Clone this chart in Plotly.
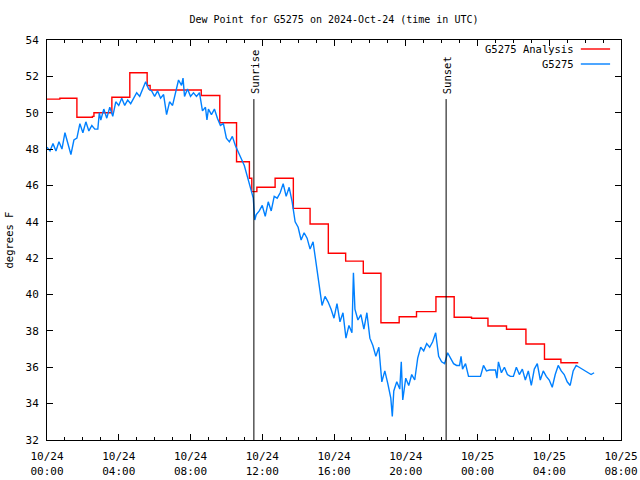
import pandas as pd
import plotly.graph_objects as go

# ---------------- data ----------------
base_date = "2024-10-24 00:00"

# observed dew point (minutes after 00:00 UTC, deg F)
obs_minutes = [0, 10, 20, 30, 40, 50, 60, 70, 80, 90, 100, 110, 120, 130, 140, 150, 160, 170, 175,
               180, 190, 200, 210, 220, 230, 240, 250, 260, 270, 280, 290, 300, 310, 320, 330, 340,
               350, 360, 370, 380, 390, 400, 410, 420, 430, 440, 450, 455, 460, 470, 480, 490, 500,
               510, 520, 530, 535, 540, 550, 560, 570, 580, 590, 600, 610, 620, 630, 640, 650, 660,
               670, 680, 690, 695, 700, 710, 720, 730, 740, 750, 760, 770, 780, 790, 800, 810, 820,
               830, 840, 850, 860, 870, 880, 890, 900, 910, 920, 930, 940, 950, 960, 970, 980, 990,
               1000, 1010, 1020, 1025, 1030, 1040, 1050, 1060, 1070, 1080, 1090, 1100, 1110, 1120,
               1130, 1140, 1150, 1155, 1160, 1170, 1180, 1185, 1190, 1200, 1210, 1220, 1230, 1240,
               1250, 1260, 1270, 1280, 1290, 1300, 1310, 1320, 1330, 1340, 1350, 1360, 1370, 1380,
               1385, 1390, 1400, 1410, 1420, 1430, 1440, 1450, 1460, 1470, 1480, 1490, 1500, 1505,
               1510, 1520, 1530, 1540, 1550, 1560, 1570, 1580, 1590, 1600, 1610, 1620, 1630, 1640,
               1650, 1660, 1670, 1680, 1690, 1700, 1710, 1720, 1730, 1740, 1750, 1760, 1770, 1780,
               1790, 1800, 1810, 1820, 1830]
obs_values = [48.1, 47.9, 48.3, 47.9, 48.4, 48.0, 48.9, 48.3, 47.7, 48.5, 48.6, 49.4, 48.9, 49.5, 49.0,
              49.3, 49.1, 49.1, 50.0, 49.6, 50.2, 49.7, 50.3, 49.8, 50.6, 50.4, 50.8, 50.4, 50.7, 50.5,
              50.8, 51.1, 50.9, 51.3, 51.7, 51.3, 51.2, 50.9, 51.2, 50.8, 51.0, 49.9, 50.6, 50.4, 51.2,
              51.8, 51.5, 51.9, 50.9, 51.3, 50.9, 51.1, 50.9, 51.1, 50.1, 50.3, 49.6, 50.2, 49.9, 50.2,
              49.7, 49.3, 49.4, 48.6, 48.4, 48.7, 48.2, 47.8, 47.5, 47.1, 46.5, 45.9, 45.3, 44.1, 44.4,
              44.6, 44.9, 44.3, 45.1, 44.6, 45.4, 45.3, 45.6, 46.1, 45.4, 45.9, 45.1, 44.0, 43.7, 43.0,
              43.4, 43.1, 42.5, 42.9, 41.8, 40.6, 39.4, 39.9, 39.6, 39.2, 38.7, 39.5, 38.5, 39.0, 37.6,
              38.3, 37.9, 41.2, 39.2, 38.6, 38.9, 38.1, 39.0, 37.6, 37.2, 36.6, 37.1, 35.2, 35.8, 35.1,
              34.3, 33.3, 34.7, 35.2, 34.8, 36.3, 34.2, 35.4, 35.0, 35.6, 35.3, 36.5, 37.1, 36.9, 37.3,
              37.1, 37.4, 37.9, 36.6, 36.3, 36.2, 36.8, 36.5, 36.2, 36.1, 36.1, 36.6, 35.9, 36.2, 35.5,
              35.5, 35.5, 35.5, 35.5, 36.1, 35.8, 35.85, 35.85, 35.85, 35.4, 36.3, 35.7, 36.0, 35.6,
              35.5, 35.5, 36.0, 35.6, 35.9, 35.3, 35.8, 35.0, 35.9, 36.2, 35.3, 35.8, 35.5, 35.3, 34.9,
              35.6, 36.1, 35.8, 35.6, 35.2, 35.0, 35.8, 36.1, 36.0, 35.9, 35.8, 35.7, 35.6, 35.7]

# analysis (step changes: minutes after 00:00 UTC, deg F)
ana_minutes = [0, 43, 100, 152, 157, 217, 277, 335, 345, 516, 578, 634, 677, 685, 702, 763, 824,
               880, 941, 999, 1058, 1117, 1178, 1236, 1301, 1362, 1420, 1475, 1537, 1602, 1664,
               1719, 1777]
ana_values = [50.75, 50.8, 49.75, 49.8, 50.0, 50.85, 52.2, 51.5, 51.25, 50.95, 49.45, 47.3, 46.4,
              45.66, 45.9, 46.4, 44.74, 43.88, 42.27, 41.84, 41.17, 38.45, 38.78, 39.06, 39.88,
              38.75, 38.7, 38.27, 38.09, 37.28, 36.44, 36.25, 36.25]

sun_minutes = [692, 1335]
sun_labels = ["Sunrise", "Sunset"]
sun_line_top = 50.75

tick_hours = [0, 4, 8, 12, 16, 20, 24, 28, 32]
tick_labels = ["10/24<br>00:00", "10/24<br>04:00", "10/24<br>08:00", "10/24<br>12:00",
               "10/24<br>16:00", "10/24<br>20:00", "10/25<br>00:00", "10/25<br>04:00",
               "10/25<br>08:00"]

series_names = ["G5275 Analysis", "G5275"]
series_colors = ["#ff0000", "#0080ff"]

# ---------------- figure ----------------
t0 = pd.Timestamp(base_date)
def to_time(mins):
    return [t0 + pd.Timedelta(minutes=m) for m in mins]

FONT = "DejaVu Sans Mono"

fig = go.Figure()
fig.add_trace(go.Scatter(x=to_time(ana_minutes), y=ana_values, mode="lines",
                         line=dict(color=series_colors[0], width=1.4, shape="hv"),
                         name=series_names[0], showlegend=False))
fig.add_trace(go.Scatter(x=to_time(obs_minutes), y=obs_values, mode="lines",
                         line=dict(color=series_colors[1], width=1.4),
                         name=series_names[1], showlegend=False))

for m, lab in zip(sun_minutes, sun_labels):
    t = t0 + pd.Timedelta(minutes=m)
    fig.add_shape(type="line", xref="x", yref="y", x0=t, x1=t, y0=32, y1=sun_line_top,
                  line=dict(color="black", width=1))
    fig.add_annotation(x=t, y=sun_line_top, xref="x", yref="y", text=lab, textangle=-90,
                       showarrow=False, xanchor="center", yanchor="bottom", yshift=3, xshift=1,
                       font=dict(family=FONT, size=10.5, color="black"))

# manual legend (text right-aligned, sample line on the right like gnuplot)
leg_y = [0.9775, 0.94]
for name, col, yy in zip(series_names, series_colors, leg_y):
    fig.add_annotation(x=0.921, y=yy, xref="paper", yref="paper", text=name, showarrow=False,
                       xanchor="right", yanchor="middle",
                       font=dict(family=FONT, size=10.5, color="black"))
    fig.add_shape(type="line", xref="paper", yref="paper", x0=0.930, x1=0.981, y0=yy, y1=yy,
                  line=dict(color=col, width=1.4))

fig.update_layout(
    template="none",
    width=640, height=480,
    margin=dict(l=47, r=19, t=40, b=40, autoexpand=False),
    paper_bgcolor="white", plot_bgcolor="white",
    font=dict(family=FONT, size=11, color="black"),
    title=dict(text="Dew Point for G5275 on 2024-Oct-24 (time in UTC)", x=0.5, xref="paper",
               xanchor="center", y=1 - 19 / 480, yanchor="middle",
               font=dict(family=FONT, size=10, color="black")),
    showlegend=False,
)
fig.update_xaxes(
    type="date", automargin=False,
    range=[t0, t0 + pd.Timedelta(hours=32)],
    tickvals=[t0 + pd.Timedelta(hours=h) for h in tick_hours],
    ticktext=tick_labels,
    ticks="inside", ticklen=6, tickcolor="black", tickwidth=1,
    ticklabelstandoff=6,
    minor=dict(ticks="inside", ticklen=3, dtick=3600000, tickcolor="black", tickwidth=1,
               showgrid=False),
    showline=True, linecolor="black", linewidth=1, mirror="allticks",
    showgrid=False, zeroline=False,
    tickfont=dict(family=FONT, size=11),
)
fig.update_yaxes(
    automargin=False,
    range=[32, 54], dtick=2, tick0=32,
    ticks="inside", ticklen=6, tickcolor="black", tickwidth=1,
    ticklabelstandoff=5,
    showline=True, linecolor="black", linewidth=1, mirror="allticks",
    showgrid=False, zeroline=False,
    title=dict(text="degrees F", font=dict(family=FONT, size=10.5), standoff=9),
    tickfont=dict(family=FONT, size=11),
)

fig.write_html("out.html")
